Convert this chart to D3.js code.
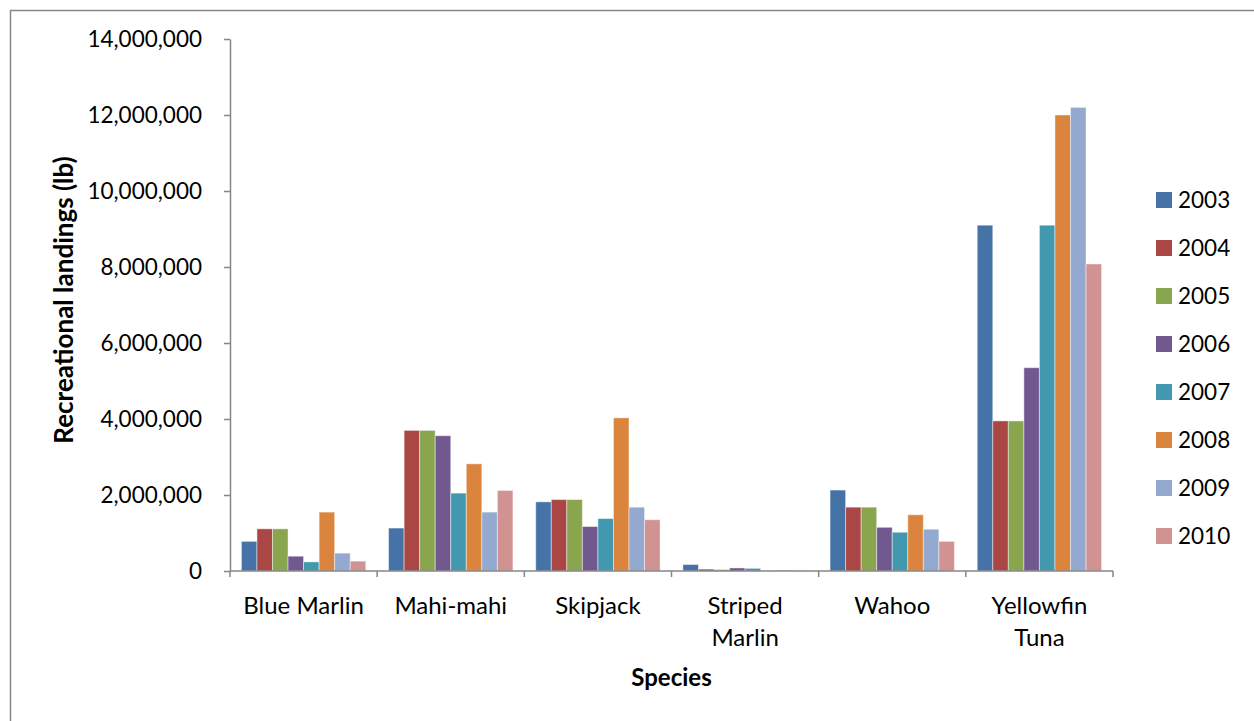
<!DOCTYPE html>
<html>
<head>
<meta charset="utf-8">
<script src="https://cdn.jsdelivr.net/npm/d3@7"></script>
<style>
  body { margin: 0; background: #fff; }
  text { font-family: Lato, "Open Sans", sans-serif; fill: #000; }
</style>
</head>
<body>
<script>
// data
const species = ["Blue Marlin", "Mahi-mahi", "Skipjack", "Striped Marlin", "Wahoo", "Yellowfin Tuna"];
const years = ["2003", "2004", "2005", "2006", "2007", "2008", "2009", "2010"];
const colors = ["#4572A7", "#AA4643", "#89A54E", "#71588F", "#4198AF", "#DB843D", "#93A9CF", "#D19392"];
const blueMarlin    = [780000, 1110000, 1110000, 390000, 240000, 1550000, 470000, 260000];
const mahiMahi      = [1130000, 3700000, 3700000, 3560000, 2050000, 2820000, 1550000, 2120000];
const skipjack      = [1820000, 1880000, 1880000, 1170000, 1380000, 4030000, 1680000, 1350000];
const stripedMarlin = [170000, 50000, 40000, 80000, 70000, 5000, 25000, 10000];
const wahoo         = [2130000, 1680000, 1680000, 1150000, 1020000, 1480000, 1100000, 780000];
const yellowfin     = [9100000, 3950000, 3950000, 5350000, 9100000, 12000000, 12200000, 8080000];
const yTicks = [0, 2000000, 4000000, 6000000, 8000000, 10000000, 12000000, 14000000];

const series = [blueMarlin, mahiMahi, skipjack, stripedMarlin, wahoo, yellowfin];

const W = 1254, H = 721;
const plot = {left: 230, right: 1113, top: 39, bottom: 571};

const svg = d3.select("body").append("svg")
  .attr("width", W)
  .attr("height", H);

//outer chart border
svg.append("rect")
  .attr("x", 10.5).attr("y", 10.5)
  .attr("width", W + 20).attr("height", H + 20)
  .attr("fill", "none")
  .attr("stroke", "#868686")
  .attr("stroke-width", 1.5);

const x0 = d3.scaleBand()
  .domain(species)
  .range([plot.left, plot.right])
  .paddingInner(0.155)
  .paddingOuter(0.0775);

const x1 = d3.scaleBand()
  .domain(years)
  .range([0, x0.bandwidth()]);

const y = d3.scaleLinear()
  .domain([0, 14000000])
  .range([plot.bottom, plot.top]);

//bars
species.forEach((s, i) => {
  svg.append("g")
    .attr("transform", "translate(" + x0(s) + ",0)")
    .selectAll("rect")
    .data(series[i])
    .enter()
    .append("rect")
      .attr("x", (d, j) => x1(years[j]))
      .attr("y", d => y(d))
      .attr("width", x1.bandwidth())
      .attr("height", d => y(0) - y(d))
      .attr("fill", (d, j) => colors[j])
      .attr("stroke", "#ffffff")
      .attr("stroke-opacity", 0.45)
      .attr("stroke-width", 1);
});

//y axis
const yAxis = svg.append("g")
  .attr("transform", "translate(" + plot.left + ",0)")
  .call(d3.axisLeft(y).tickValues(yTicks).tickSize(6).tickSizeOuter(0).tickPadding(22)
    .tickFormat(d3.format(",")));
yAxis.selectAll("path, line").attr("stroke", "#868686").attr("stroke-width", 1.5);
yAxis.selectAll("text").attr("font-size", "22.5px").style("font-family", "Lato, sans-serif");

//x axis line and ticks at category boundaries
svg.append("line")
  .attr("x1", plot.left).attr("x2", plot.right)
  .attr("y1", y(0)).attr("y2", y(0))
  .attr("stroke", "#868686").attr("stroke-width", 1.5);
const step = x0.step();
const bounds = d3.range(species.length + 1).map(k => plot.left + k * step);
svg.append("g").selectAll("line")
  .data(bounds)
  .enter()
  .append("line")
    .attr("x1", d => d).attr("x2", d => d)
    .attr("y1", y(0)).attr("y2", y(0) + 6)
    .attr("stroke", "#868686").attr("stroke-width", 1.5);

//category labels (wrapped)
const catLabels = species.map(s => {
  if (s === "Striped Marlin") return ["Striped", "Marlin"];
  if (s === "Yellowfin Tuna") return ["Yellowfin", "Tuna"];
  return [s];
});
species.forEach((s, i) => {
  const t = svg.append("text")
    .attr("text-anchor", "middle")
    .attr("font-size", "24px");
  catLabels[i].forEach((line, k) => {
    t.append("tspan")
      .attr("x", plot.left + (i + 0.5) * step)
      .attr("y", 614 + k * 32)
      .text(line);
  });
});

//axis titles
svg.append("text")
  .attr("text-anchor", "middle")
  .attr("transform", "translate(73,300) rotate(-90)")
  .attr("font-size", "26px")
  .attr("font-weight", "bold")
  .text("Recreational landings (lb)");

svg.append("text")
  .attr("text-anchor", "middle")
  .attr("x", (plot.left + plot.right) / 2)
  .attr("y", 686)
  .attr("font-size", "24px")
  .attr("font-weight", "bold")
  .text("Species");

//legend
const legend = svg.append("g")
  .selectAll("g")
  .data(years)
  .enter()
  .append("g")
    .attr("transform", (d, i) => "translate(1156," + (192 + i * 48) + ")");
legend.append("rect")
  .attr("width", 16).attr("height", 16)
  .attr("fill", (d, i) => colors[i]);
legend.append("text")
  .attr("x", 22).attr("y", 16)
  .attr("font-size", "22.5px")
  .text(d => d);
</script>
</body>
</html>
